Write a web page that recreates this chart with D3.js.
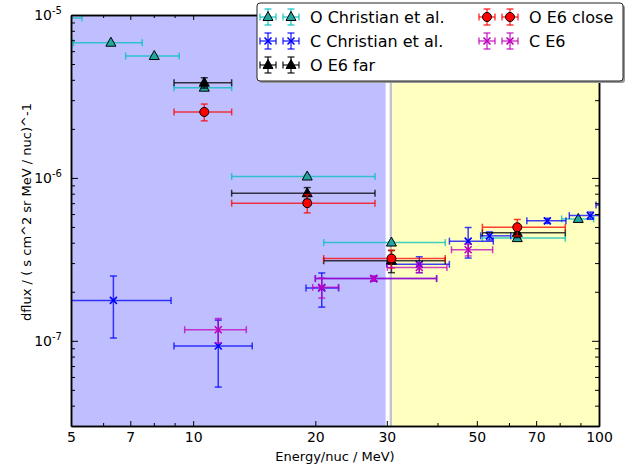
<!DOCTYPE html>
<html>
<head>
<meta charset="utf-8">
<script src="https://cdn.jsdelivr.net/npm/d3@7"></script>
<style>
  body { margin: 0; background: white; }
  text { font-family: "DejaVu Sans", sans-serif; }
</style>
</head>
<body>
<div id="chart"></div>
<script>
var w = 636;
var h = 465;

// [energy, energy low, energy high, flux, flux error]
var oChristian = [
    [4.5, 3.8, 5.32, 9.6e-6, 0.1e-6],
    [6.27, 5.07, 7.49, 6.76e-6, 0.1e-6],
    [8.02, 6.82, 9.24, 5.60e-6, 0.1e-6],
    [10.65, 8.97, 12.44, 3.58e-6, 0.05e-6],
    [19.1, 12.44, 28.06, 1.02e-6, 0.02e-6],
    [30.8, 20.97, 41.8, 4.01e-7, 0.05e-7],
    [62.9, 51.6, 82.6, 4.27e-7, 0.05e-7],
    [88.9, 80.9, 97, 5.6e-7, 0.05e-7]
];
var cChristian = [
    [6.36, 4.5, 8.82, 1.77e-7, 0.73e-7],
    [11.53, 8.97, 13.98, 9.3e-8, 4.1e-8],
    [20.74, 18.97, 22.83, 2.11e-7, 0.5e-7],
    [27.86, 20.0, 39.8, 2.41e-7, 0.08e-7],
    [36.07, 29.98, 42.78, 2.95e-7, 0.33e-7],
    [47.6, 42.8, 54.9, 4.09e-7, 0.87e-7],
    [53.7, 51.1, 60.6, 4.41e-7, 0.25e-7],
    [74.6, 66.4, 82.9, 5.45e-7, 0.2e-7],
    [95.2, 84.5, 106, 5.87e-7, 0.3e-7],
    [110, 98.3, 125, 6.83e-7, 0.3e-7]
];
var oE6far = [
    [10.65, 8.97, 12.44, 3.84e-6, 0.28e-6],
    [19.1, 12.44, 28.06, 8.05e-7, 0.67e-7],
    [30.8, 20.97, 41.8, 3.1e-7, 0.48e-7],
    [62.9, 51.6, 82.6, 4.6e-7, 0.3e-7]
];
var oE6close = [
    [10.65, 8.97, 12.44, 2.54e-6, 0.3e-6],
    [19.1, 12.44, 28.06, 7.0e-7, 0.9e-7],
    [30.8, 20.97, 41.8, 3.2e-7, 0.4e-7],
    [62.9, 51.6, 82.6, 4.98e-7, 0.58e-7]
];
var cE6 = [
    [11.53, 9.53, 13.52, 1.17e-7, 0.2e-7],
    [20.74, 19.7, 22.8, 2.13e-7, 0.3e-7],
    [27.86, 20.0, 39.8, 2.41e-7, 0.08e-7],
    [36.07, 30.1, 42.2, 2.82e-7, 0.2e-7],
    [47.6, 43.3, 54.7, 3.62e-7, 0.3e-7]
];

var xLabelTicks = [5, 7, 10, 20, 30, 50, 70, 100];
var xMinorTicks = [6, 8, 9, 40, 60, 80, 90];
var yMajorTicks = [1e-7, 1e-6, 1e-5];
var yMinorTicks = [4e-8, 5e-8, 6e-8, 7e-8, 8e-8, 9e-8,
                   2e-7, 3e-7, 4e-7, 5e-7, 6e-7, 7e-7, 8e-7, 9e-7,
                   2e-6, 3e-6, 4e-6, 5e-6, 6e-6, 7e-6, 8e-6, 9e-6];

var blueBand = [5, 29.8];
var yellowBand = [31, 100];
var sepLine = 30.7;

var pl = 71, pr = 599, pt = 15, pb = 426;

var xScale = d3.scaleLog().domain([5, 100]).range([pl, pr]);
var yScale = d3.scaleLog().domain([3e-8, 1e-5]).range([pb, pt]);

var svg = d3.select("#chart")
    .append("svg")
    .attr("width", w)
    .attr("height", h)
    .style("background-color", "white");

svg.append("clipPath")
    .attr("id", "clip")
    .append("rect")
    .attr("x", pl)
    .attr("y", pt)
    .attr("width", pr - pl)
    .attr("height", pb - pt);

var plot = svg.append("g").attr("clip-path", "url(#clip)");

plot.append("rect")
    .attr("x", xScale(blueBand[0]))
    .attr("width", xScale(blueBand[1]) - xScale(blueBand[0]))
    .attr("y", pt)
    .attr("height", pb - pt)
    .attr("fill", "#bfbfff");

plot.append("rect")
    .attr("x", xScale(yellowBand[0]))
    .attr("width", xScale(yellowBand[1]) - xScale(yellowBand[0]))
    .attr("y", pt)
    .attr("height", pb - pt)
    .attr("fill", "#ffffc0");

plot.append("line")
    .attr("x1", xScale(sepLine))
    .attr("x2", xScale(sepLine))
    .attr("y1", pt)
    .attr("y2", pb)
    .attr("stroke", "#c4c4c4")
    .attr("stroke-width", 2.4);

var series = [
    {data: oChristian, color: "#00bfbf", shape: "tri", fill: "#20a8a0", edge: "#000"},
    {data: cChristian, color: "#0000ff", shape: "x", fill: "#0000ff", edge: "#0000ff"},
    {data: oE6far, color: "#000000", shape: "tri", fill: "#000", edge: "#000"},
    {data: oE6close, color: "#ff0000", shape: "circle", fill: "#ff0000", edge: "#000"},
    {data: cE6, color: "#bf00bf", shape: "x", fill: "#bf00bf", edge: "#bf00bf"}
];

function drawMarker(g, s, cx, cy) {
    if (s.shape === "circle") {
        g.append("circle")
            .attr("cx", cx).attr("cy", cy).attr("r", 4.5)
            .attr("fill", s.fill).attr("stroke", s.edge).attr("stroke-width", 1);
    } else if (s.shape === "tri") {
        g.append("path")
            .attr("d", "M0,-5.5L5,3.5L-5,3.5Z")
            .attr("transform", `translate(${cx},${cy})`)
            .attr("fill", s.fill).attr("stroke", s.edge).attr("stroke-width", 1);
    } else {
        g.append("path")
            .attr("d", "M-3.5,-3.5L3.5,3.5M-3.5,3.5L3.5,-3.5")
            .attr("transform", `translate(${cx},${cy})`)
            .attr("fill", "none").attr("stroke", s.edge).attr("stroke-width", 1.6);
    }
}

function errLines(g, color, x1, x2, y0, y1, y2, cx) {
    var e = g.append("g")
        .attr("stroke", color)
        .attr("stroke-opacity", 0.75)
        .attr("stroke-width", 1.5);
    e.append("line").attr("x1", x1).attr("x2", x2).attr("y1", y0).attr("y2", y0);
    e.append("line").attr("x1", x1).attr("x2", x1).attr("y1", y0 - 3.5).attr("y2", y0 + 3.5);
    e.append("line").attr("x1", x2).attr("x2", x2).attr("y1", y0 - 3.5).attr("y2", y0 + 3.5);
    e.append("line").attr("x1", cx).attr("x2", cx).attr("y1", y1).attr("y2", y2);
    e.append("line").attr("x1", cx - 3.5).attr("x2", cx + 3.5).attr("y1", y1).attr("y2", y1);
    e.append("line").attr("x1", cx - 3.5).attr("x2", cx + 3.5).attr("y1", y2).attr("y2", y2);
}

series.forEach(function(s) {
    var g = plot.append("g");
    s.data.forEach(function(d) {
        var cx = xScale(d[0]);
        var cy = yScale(d[3]);
        errLines(g, s.color, xScale(d[1]), xScale(d[2]), cy,
                 yScale(d[3] + d[4]), yScale(Math.max(d[3] - d[4], 1e-9)), cx);
        drawMarker(g, s, cx, cy);
    });
});

// axes, ticks inward on all four sides
var axes = svg.append("g");

axes.append("g")
    .attr("transform", `translate(0, ${pb})`)
    .call(d3.axisBottom(xScale).tickValues(xLabelTicks).tickFormat(d3.format("d"))
        .tickSizeInner(-5).tickSizeOuter(0).tickPadding(6))
    .call(g => g.selectAll("text").attr("font-size", 14).attr("fill", "#000")
        .attr("font-family", "DejaVu Sans"));
axes.append("g")
    .attr("transform", `translate(0, ${pb})`)
    .call(d3.axisBottom(xScale).tickValues(xMinorTicks).tickFormat("")
        .tickSizeInner(-3).tickSizeOuter(0));
axes.append("g")
    .attr("transform", `translate(0, ${pt})`)
    .call(d3.axisTop(xScale).tickValues(xLabelTicks).tickFormat("")
        .tickSizeInner(-5).tickSizeOuter(0));
axes.append("g")
    .attr("transform", `translate(0, ${pt})`)
    .call(d3.axisTop(xScale).tickValues(xMinorTicks).tickFormat("")
        .tickSizeInner(-3).tickSizeOuter(0));

var yAxis = axes.append("g")
    .attr("transform", `translate(${pl}, 0)`)
    .call(d3.axisLeft(yScale).tickValues(yMajorTicks).tickFormat(d => "10")
        .tickSizeInner(-7).tickSizeOuter(0).tickPadding(9));
yAxis.selectAll(".tick text")
    .attr("font-size", 14)
    .attr("fill", "#000")
    .attr("font-family", "DejaVu Sans")
    .each(function(d) {
        d3.select(this).append("tspan")
            .attr("dy", "-0.6em")
            .attr("font-size", 10)
            .text(Math.round(Math.log10(d)));
    });
axes.append("g")
    .attr("transform", `translate(${pl}, 0)`)
    .call(d3.axisLeft(yScale).tickValues(yMinorTicks).tickFormat("")
        .tickSizeInner(-4).tickSizeOuter(0));
axes.append("g")
    .attr("transform", `translate(${pr}, 0)`)
    .call(d3.axisRight(yScale).tickValues(yMajorTicks).tickFormat("")
        .tickSizeInner(-7).tickSizeOuter(0));
axes.append("g")
    .attr("transform", `translate(${pr}, 0)`)
    .call(d3.axisRight(yScale).tickValues(yMinorTicks).tickFormat("")
        .tickSizeInner(-4).tickSizeOuter(0));

axes.selectAll(".domain").attr("stroke", "#000").attr("stroke-width", 1.5);
axes.selectAll(".tick line").attr("stroke", "#000").attr("stroke-width", 1);

svg.append("text")
    .attr("text-anchor", "middle")
    .attr("x", (pl + pr) / 2)
    .attr("y", 461)
    .attr("font-size", 13)
    .text("Energy/nuc / MeV)");

svg.append("text")
    .attr("text-anchor", "middle")
    .attr("transform", "translate(31, 212) rotate(-90)")
    .attr("font-size", 13)
    .text("dflux / ( s cm^2 sr MeV / nuc)^-1");

// legend
var legendNames = ["O Christian et al.", "C Christian et al.", "O E6 far", "O E6 close", "C E6"];
var legend = svg.append("g").attr("transform", "translate(257, 3)");
legend.append("rect")
    .attr("x", 2).attr("y", 2)
    .attr("width", 366).attr("height", 78)
    .attr("rx", 3)
    .attr("fill", "#999");
legend.append("rect")
    .attr("width", 366).attr("height", 78)
    .attr("rx", 3)
    .attr("fill", "white")
    .attr("stroke", "#222")
    .attr("stroke-width", 1);

series.forEach(function(s, i) {
    var col = i < 3 ? 0 : 1;
    var row = i < 3 ? i : i - 3;
    var gx = col === 0 ? 11 : 230;
    var gy = 14 + row * 24;
    var g = legend.append("g");
    [gx, gx + 23].forEach(function(mx) {
        errLines(g, s.color, mx - 8, mx + 8, gy, gy - 8, gy + 8, mx);
        drawMarker(g, s, mx, gy);
    });
    legend.append("text")
        .attr("x", gx + 42)
        .attr("y", gy + 6)
        .attr("font-size", 16)
        .text(legendNames[i]);
});
</script>
</body>
</html>
